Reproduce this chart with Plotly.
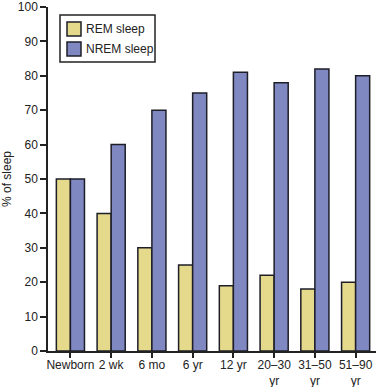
import plotly.graph_objects as go

categories = ["Newborn", "2 wk", "6 mo", "6 yr", "12 yr", "20–30<br>yr", "31–50<br>yr", "51–90<br>yr"]
rem_sleep = [50, 40, 30, 25, 19, 22, 18, 20]
nrem_sleep = [50, 60, 70, 75, 81, 78, 82, 80]
y_ticks = [0, 10, 20, 30, 40, 50, 60, 70, 80, 90, 100]
series_names = ["REM sleep", "NREM sleep"]
series_colors = ["#E5D98B", "#8088C2"]

W, H = 376, 387
L, R, T, B = 48, 0, 7, 36
PW, PH = W - L - R, H - T - B

font_family = "Liberation Sans, Arial, sans-serif"
outline = dict(color="#1e1e28", width=1.5)
FS = 12

def px_x(p):
    return (p - L) / PW

def px_y(p):
    return (H - B - p) / PH

fig = go.Figure()
for name, vals, col in zip(series_names, [rem_sleep, nrem_sleep], series_colors):
    fig.add_trace(go.Bar(x=categories, y=vals, name=name,
                         marker=dict(color=col, line=outline)))

# legend box drawn by hand to match the compact reference legend
shapes = [dict(type="rect", xref="paper", yref="paper",
               x0=px_x(60), x1=px_x(155), y0=px_y(62), y1=px_y(15),
               line=dict(color="#222", width=1.5), fillcolor="white", layer="above")]
annotations = []
for i, (name, col) in enumerate(zip(series_names, series_colors)):
    top = 22 + i * 20
    shapes.append(dict(type="rect", xref="paper", yref="paper",
                       x0=px_x(67), x1=px_x(81), y0=px_y(top + 14), y1=px_y(top),
                       line=outline, fillcolor=col, layer="above"))
    annotations.append(dict(xref="paper", yref="paper", x=px_x(84), y=px_y(top + 7),
                            text=name, showarrow=False, xanchor="left", yanchor="middle",
                            font=dict(size=FS, color="#222")))

fig.update_layout(
    width=W, height=H,
    margin=dict(l=L, r=R, t=T, b=B),
    paper_bgcolor="white", plot_bgcolor="white",
    barmode="group", bargap=0.31, bargroupgap=0,
    font=dict(family=font_family, size=FS, color="#222"),
    showlegend=False,
    shapes=shapes, annotations=annotations,
    xaxis=dict(range=[-0.55, 7.5], showline=True, linecolor="#222", linewidth=1.5,
               ticks="outside", ticklen=5, tickcolor="#222", tickwidth=1.5,
               showgrid=False, tickangle=0, tickfont=dict(size=FS),
               automargin=False, ticklabelstandoff=-3, ticklabeloverflow="allow"),
    yaxis=dict(range=[0, 100], tickvals=y_ticks, showline=True, linecolor="#222",
               linewidth=1.5, ticks="outside", ticklen=6, tickcolor="#222", tickwidth=1.5,
               showgrid=False, zeroline=False, tickfont=dict(size=FS), automargin=False,
               ticklabeloverflow="allow",
               title=dict(text="% of sleep", font=dict(size=FS), standoff=8)),
)

fig.write_html("out.html", config={"displayModeBar": False},
               post_script="document.body.style.margin='0';document.body.style.overflow='hidden';")
